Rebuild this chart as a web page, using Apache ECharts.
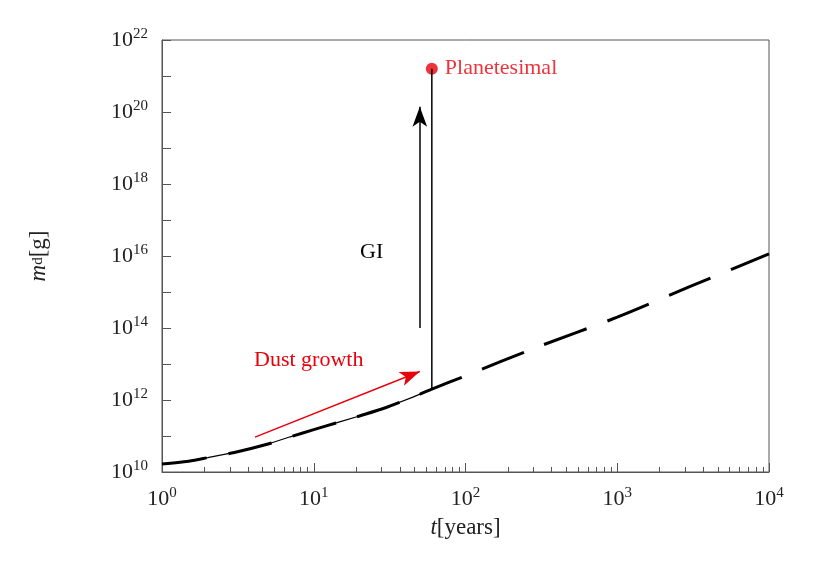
<!DOCTYPE html>
<html>
<head>
<meta charset="utf-8">
<script src="https://cdn.jsdelivr.net/npm/echarts@6/dist/echarts.min.js"></script>
<style>body{margin:0}#c{width:830px;height:575px}</style>
</head>
<body>
<div id="c"></div>
<script>
// growth curve: t [years], m_d [g]
var tCurve = [1, 1.5, 2, 3, 5, 7, 10, 15, 20, 30, 45, 60, 100, 300, 1000, 3000, 10000];
var mCurve = [1.66e10, 2.0e10, 2.5e10, 3.5e10, 6.0e10, 9.5e10, 1.5e11, 2.5e11, 3.6e11, 6.2e11, 1.2e12, 2.0e12, 4.7e12, 3.0e13, 2.0e14, 1.4e15, 1.15e16];
var tGI = 60;
var mGIstart = 2.0e12, mPlanetesimal = 1.6e21;
var giArrow = [[50, 1e14], [50, 1.4e20]];
var dustArrow = [[4.1, 9.3e10], [50, 6.2e12]];

var chart = echarts.init(document.getElementById("c"));
var serif = "Liberation Serif";
var richSup = { s: { fontSize: 15, verticalAlign: "top", padding: [0, 0, 12, 0], fontFamily: serif, color: "#222" } };
var curve = tCurve.map(function(t, i){ return [t, mCurve[i]]; });
var option = {
    textStyle: { fontFamily: serif },
    grid: { left: 162, right: 61, top: 40, bottom: 103 },
    xAxis: {
        type: "log", logBase: 10, min: 1, max: 10000,
        name: "{i|t}[years]", nameLocation: "middle", nameGap: 44,
        nameTextStyle: { fontSize: 23, color: "#222", rich: { i: { fontStyle: "italic", fontSize: 23, fontFamily: serif, color: "#222" } } },
        axisLine: { lineStyle: { color: "#555" } },
        axisTick: { inside: true, length: 9, lineStyle: { color: "#555" } },
        minorTick: { show: true, splitNumber: 10, length: 5, lineStyle: { color: "#555" } },
        splitLine: { show: false },
        axisLabel: { fontSize: 22, color: "#222", margin: 14,
            formatter: function(v){ return "10{s|" + Math.round(Math.log10(v)) + "}"; }, rich: richSup }
    },
    yAxis: {
        type: "log", logBase: 10, min: 1e10, max: 1e22, interval: 1,
        name: "{i|m}{s|d}[g]", nameLocation: "middle", nameGap: 112, nameRotate: 90,
        nameTextStyle: { fontSize: 23, color: "#222", rich: { i: { fontStyle: "italic", fontSize: 23, fontFamily: serif, color: "#222" }, s: { fontSize: 15, fontFamily: serif, color: "#222" } } },
        axisLine: { lineStyle: { color: "#555" } },
        axisTick: { inside: true, length: 9, lineStyle: { color: "#555" } },
        splitLine: { show: false },
        axisLabel: { fontSize: 22, color: "#222", margin: 14,
            formatter: function(v){ var e = Math.round(Math.log10(v)); return e % 2 === 0 ? "10{s|" + e + "}" : ""; },
            rich: richSup }
    },
    series: [
        { type: "line", data: curve.filter(function(d){ return d[0] <= tGI; }),
          symbol: "none", lineStyle: { color: "#000", width: 1.2 } },
        { type: "line", data: curve, smooth: 0.3,
          symbol: "none", lineStyle: { color: "#000", width: 3, type: [45, 22] } },
        { type: "line", data: [[tGI, mGIstart], [tGI, mPlanetesimal]], symbol: "none",
          lineStyle: { color: "#000", width: 1.5 } },
        { type: "scatter", data: [[tGI, mPlanetesimal]], symbol: "circle", symbolSize: 12,
          itemStyle: { color: "#e8000b" },
          label: { show: true, position: "right", formatter: "Planetesimal", color: "#e8000b", fontSize: 22, fontFamily: serif, offset: [2, 0] } },
        { type: "line", data: [], symbol: "none",
          markLine: { silent: true, symbol: ["none", "arrow"], symbolSize: [11, 20], label: { show: false },
            data: [
                [{ coord: giArrow[0], lineStyle: { color: "#000", width: 1.5, type: "solid" }, itemStyle: { color: "#000" } }, { coord: giArrow[1] }],
                [{ coord: dustArrow[0], lineStyle: { color: "#e8000b", width: 1.5, type: "solid" }, itemStyle: { color: "#e8000b" } }, { coord: dustArrow[1] }]
            ] } }
    ],
    graphic: [
        { type: "text", left: 360, top: 241, style: { text: "GI", font: "22px " + serif, fill: "#000" } },
        { type: "text", left: 254, top: 349, style: { text: "Dust growth", font: "22px " + serif, fill: "#e8000b" } },
        { type: "rect", shape: { x: 162, y: 40, width: 607, height: 432 }, style: { fill: "none", stroke: "#555", lineWidth: 1 }, silent: true }
    ]
};
chart.setOption(option);
</script>
</body>
</html>
